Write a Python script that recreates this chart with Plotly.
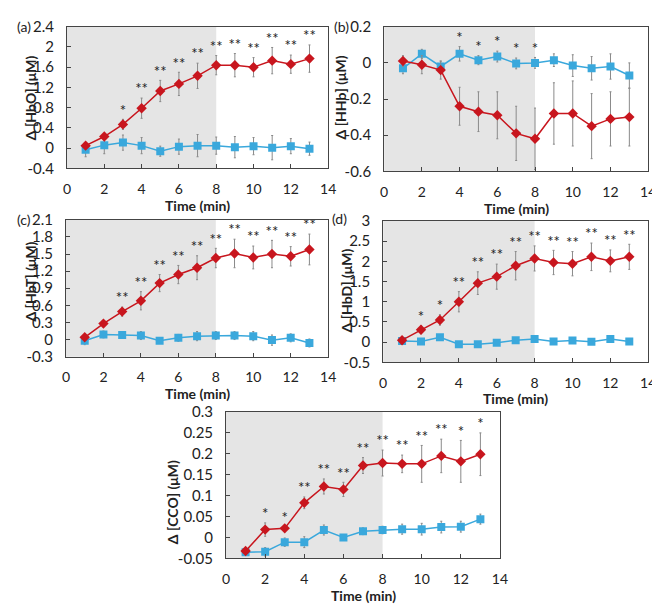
import plotly.graph_objects as go

W, H = 660, 607
time = list(range(1, 14))

# Panel (a) HbO
hbo_red = [0.05, 0.23, 0.47, 0.79, 1.13, 1.27, 1.43, 1.64, 1.64, 1.60, 1.73, 1.66, 1.77]
hbo_red_err = [0.03, 0.06, 0.10, 0.20, 0.21, 0.23, 0.25, 0.19, 0.23, 0.19, 0.26, 0.18, 0.27]
hbo_blue = [-0.03, 0.06, 0.11, 0.05, -0.06, 0.03, 0.05, 0.05, 0.02, 0.04, 0.01, 0.04, -0.01]
hbo_blue_err = [0.14, 0.17, 0.15, 0.16, 0.10, 0.15, 0.22, 0.17, 0.21, 0.17, 0.24, 0.15, 0.13]
hbo_sig = ["", "", "*", "**", "**", "**", "**", "**", "**", "**", "**", "**", "**"]

# Panel (b) HHb
hhb_red = [0.01, -0.01, -0.04, -0.24, -0.27, -0.29, -0.39, -0.42, -0.28, -0.28, -0.35, -0.31, -0.30]
hhb_red_err = [0.03, 0.05, 0.05, 0.105, 0.11, 0.13, 0.15, 0.17, 0.17, 0.18, 0.18, 0.15, 0.16]
hhb_blue = [-0.03, 0.05, -0.02, 0.05, 0.015, 0.035, -0.003, 0.0, 0.015, -0.015, -0.03, -0.02, -0.07]
hhb_blue_err = [0.03, 0.025, 0.03, 0.04, 0.025, 0.03, 0.03, 0.03, 0.035, 0.06, 0.065, 0.07, 0.07]
hhb_sig = ["", "", "", "*", "*", "*", "*", "*", "", "", "", "", ""]

# Panel (c) HbT
hbt_red = [0.04, 0.28, 0.49, 0.68, 0.99, 1.14, 1.26, 1.43, 1.51, 1.44, 1.50, 1.46, 1.58]
hbt_red_err = [0.03, 0.05, 0.08, 0.16, 0.15, 0.16, 0.21, 0.17, 0.25, 0.20, 0.24, 0.17, 0.27]
hbt_blue = [-0.02, 0.09, 0.08, 0.07, -0.02, 0.03, 0.06, 0.07, 0.07, 0.06, -0.01, 0.03, -0.06]
hbt_blue_err = [0.07, 0.06, 0.05, 0.07, 0.03, 0.06, 0.08, 0.07, 0.07, 0.08, 0.09, 0.07, 0.07]
hbt_sig = ["", "", "**", "**", "**", "**", "**", "**", "**", "**", "**", "**", "**"]

# Panel (d) HbD
hbd_red = [0.05, 0.31, 0.55, 1.00, 1.46, 1.62, 1.89, 2.07, 1.97, 1.94, 2.11, 2.01, 2.11]
hbd_red_err = [0.03, 0.10, 0.13, 0.25, 0.28, 0.31, 0.35, 0.31, 0.30, 0.30, 0.34, 0.27, 0.31]
hbd_blue = [0.03, 0.02, 0.12, -0.05, -0.05, -0.01, 0.05, 0.08, 0.02, 0.04, 0.01, 0.08, 0.02]
hbd_blue_err = [0.03, 0.03, 0.04, 0.04, 0.03, 0.04, 0.04, 0.05, 0.04, 0.05, 0.05, 0.05, 0.03]
hbd_sig = ["", "*", "*", "**", "**", "**", "**", "**", "**", "**", "**", "**", "**"]

# Panel (e) CCO
cco_red = [-0.032, 0.019, 0.022, 0.083, 0.122, 0.115, 0.172, 0.178, 0.176, 0.176, 0.195, 0.182, 0.199]
cco_red_err = [0.004, 0.016, 0.004, 0.014, 0.018, 0.017, 0.019, 0.031, 0.021, 0.044, 0.040, 0.050, 0.051]
cco_blue = [-0.035, -0.034, -0.011, -0.011, 0.018, 0.0, 0.015, 0.018, 0.020, 0.020, 0.025, 0.026, 0.044]
cco_blue_err = [0.008, 0.010, 0.010, 0.013, 0.012, 0.005, 0.008, 0.009, 0.012, 0.014, 0.014, 0.013, 0.012]
cco_sig = ["", "*", "*", "**", "**", "**", "**", "**", "**", "**", "**", "*", "*"]

x_ticks = [0, 2, 4, 6, 8, 10, 12, 14]
stim_end = 8

panels = [
    dict(label="(a)", title="Δ [HbO] (μM)", red=hbo_red, rerr=hbo_red_err, blue=hbo_blue, berr=hbo_blue_err,
         sig=hbo_sig, sig_on="red", yticks=[-0.4, 0, 0.4, 0.8, 1.2, 1.6, 2, 2.4],
         box=(56, 322, 9, 155), lab=(12, 9), tit=(19, 82), xt=38),
    dict(label="(b)", title="Δ [HHb] (μM)", red=hhb_red, rerr=hhb_red_err, blue=hhb_blue, berr=hhb_blue_err,
         sig=hhb_sig, sig_on="blue", yticks=[-0.6, -0.4, -0.2, 0, 0.2],
         box=(379, 648, 9, 158), lab=(336, 9), tit=(335, 82), xt=38),
    dict(label="(c)", title="Δ [HbT] (μM)", red=hbt_red, rerr=hbt_red_err, blue=hbt_blue, berr=hbt_blue_err,
         sig=hbt_sig, sig_on="red", yticks=[-0.3, 0, 0.3, 0.6, 0.9, 1.2, 1.5, 1.8, 2.1],
         box=(55, 322, 208, 349), lab=(12, 208), tit=(19, 272), xt=38),
    dict(label="(d)", title="Δ [HbD] (μM)", red=hbd_red, rerr=hbd_red_err, blue=hbd_blue, berr=hbd_blue_err,
         sig=hbd_sig, sig_on="red", yticks=[-0.5, 0, 0.5, 1, 1.5, 2, 2.5, 3],
         box=(378, 648, 209, 355), lab=(334, 207), tit=(341, 281), xt=37),
    dict(label="", title="Δ [CCO] (μM)", red=cco_red, rerr=cco_red_err, blue=cco_blue, berr=cco_blue_err,
         sig=cco_sig, sig_on="red", yticks=[-0.05, 0, 0.05, 0.1, 0.15, 0.2, 0.25, 0.3],
         box=(218, 497, 406, 557), lab=None, tit=(163, 499), xt=38),
]

RED = "#c8161e"
BLUE = "#3aa8dc"
ERR = "#8a8a8a"
FONT = "Lato"
TXT = "#222"

fig = go.Figure()
layout = dict(width=W, height=H, margin=dict(l=0, r=0, t=0, b=0),
              paper_bgcolor="white", plot_bgcolor="white", showlegend=False,
              font=dict(family=FONT, color=TXT))
shapes = []
annotations = []

for i, p in enumerate(panels):
    n = i + 1
    xa = "x" if n == 1 else f"x{n}"
    ya = "y" if n == 1 else f"y{n}"
    x0, x1, y0, y1 = p["box"]
    layout["xaxis" if n == 1 else f"xaxis{n}"] = dict(
        domain=[x0 / W, x1 / W], anchor=ya, range=[0, 14], tickmode="array", tickvals=x_ticks,
        ticks="inside", ticklen=4, tickcolor="#444", showline=True, linecolor="#444", linewidth=1,
        mirror=True, showgrid=False, zeroline=False, ticklabelstandoff=8,
        tickfont=dict(size=14, family=FONT, color=TXT))
    yt = p["yticks"]
    layout["yaxis" if n == 1 else f"yaxis{n}"] = dict(
        domain=[1 - y1 / H, 1 - y0 / H], anchor=xa, range=[yt[0], yt[-1]], tickmode="array",
        tickvals=yt, ticktext=[("%g" % v) for v in yt],
        ticks="inside", ticklen=4, tickcolor="#444", showline=True, linecolor="#444", linewidth=1,
        mirror=True, showgrid=False, zeroline=False, ticklabelstandoff=9,
        tickfont=dict(size=15, family=FONT, color=TXT))
    shapes.append(dict(type="rect", xref=xa, yref=f"{ya} domain", x0=0, x1=stim_end, y0=0, y1=1,
                       fillcolor="#e5e5e5", line=dict(width=0), layer="below"))
    fig.add_trace(go.Scatter(x=time, y=p["blue"], xaxis=xa, yaxis=ya, mode="lines+markers",
                             line=dict(color=BLUE, width=1.5),
                             marker=dict(symbol="square", size=8, color=BLUE),
                             error_y=dict(type="data", array=p["berr"], color=ERR, thickness=1, width=1)))
    fig.add_trace(go.Scatter(x=time, y=p["red"], xaxis=xa, yaxis=ya, mode="lines+markers",
                             line=dict(color=RED, width=1.5),
                             marker=dict(symbol="diamond", size=8, color=RED),
                             error_y=dict(type="data", array=p["rerr"], color=ERR, thickness=1, width=1)))
    if p["sig_on"] == "red":
        base = [v + e for v, e in zip(p["red"], p["rerr"])]
    else:
        base = [v + e for v, e in zip(p["blue"], p["berr"])]
    fig.add_trace(go.Scatter(x=time, y=base, xaxis=xa, yaxis=ya, mode="text", text=p["sig"],
                             textposition="top center",
                             textfont=dict(size=15, family=FONT, color=TXT)))
    if p["lab"]:
        annotations.append(dict(text=p["label"], xref="paper", yref="paper", x=p["lab"][0] / W,
                                y=1 - p["lab"][1] / H, showarrow=False, xanchor="center", yanchor="middle",
                                font=dict(size=14, family=FONT, color=TXT)))
    annotations.append(dict(text="<b>" + p["title"] + "</b>", xref="paper", yref="paper",
                            x=p["tit"][0] / W, y=1 - p["tit"][1] / H, showarrow=False, textangle=-90,
                            xanchor="center", yanchor="middle",
                            font=dict(size=14, family=FONT, color=TXT)))
    annotations.append(dict(text="<b>Time (min)</b>", xref="paper", yref="paper",
                            x=(x0 + x1) / 2 / W, y=1 - (y1 + p["xt"]) / H, showarrow=False,
                            xanchor="center", yanchor="middle",
                            font=dict(size=14, family=FONT, color=TXT)))

layout["shapes"] = shapes
layout["annotations"] = annotations
fig.update_layout(**layout)
fig.write_html("out.html")
